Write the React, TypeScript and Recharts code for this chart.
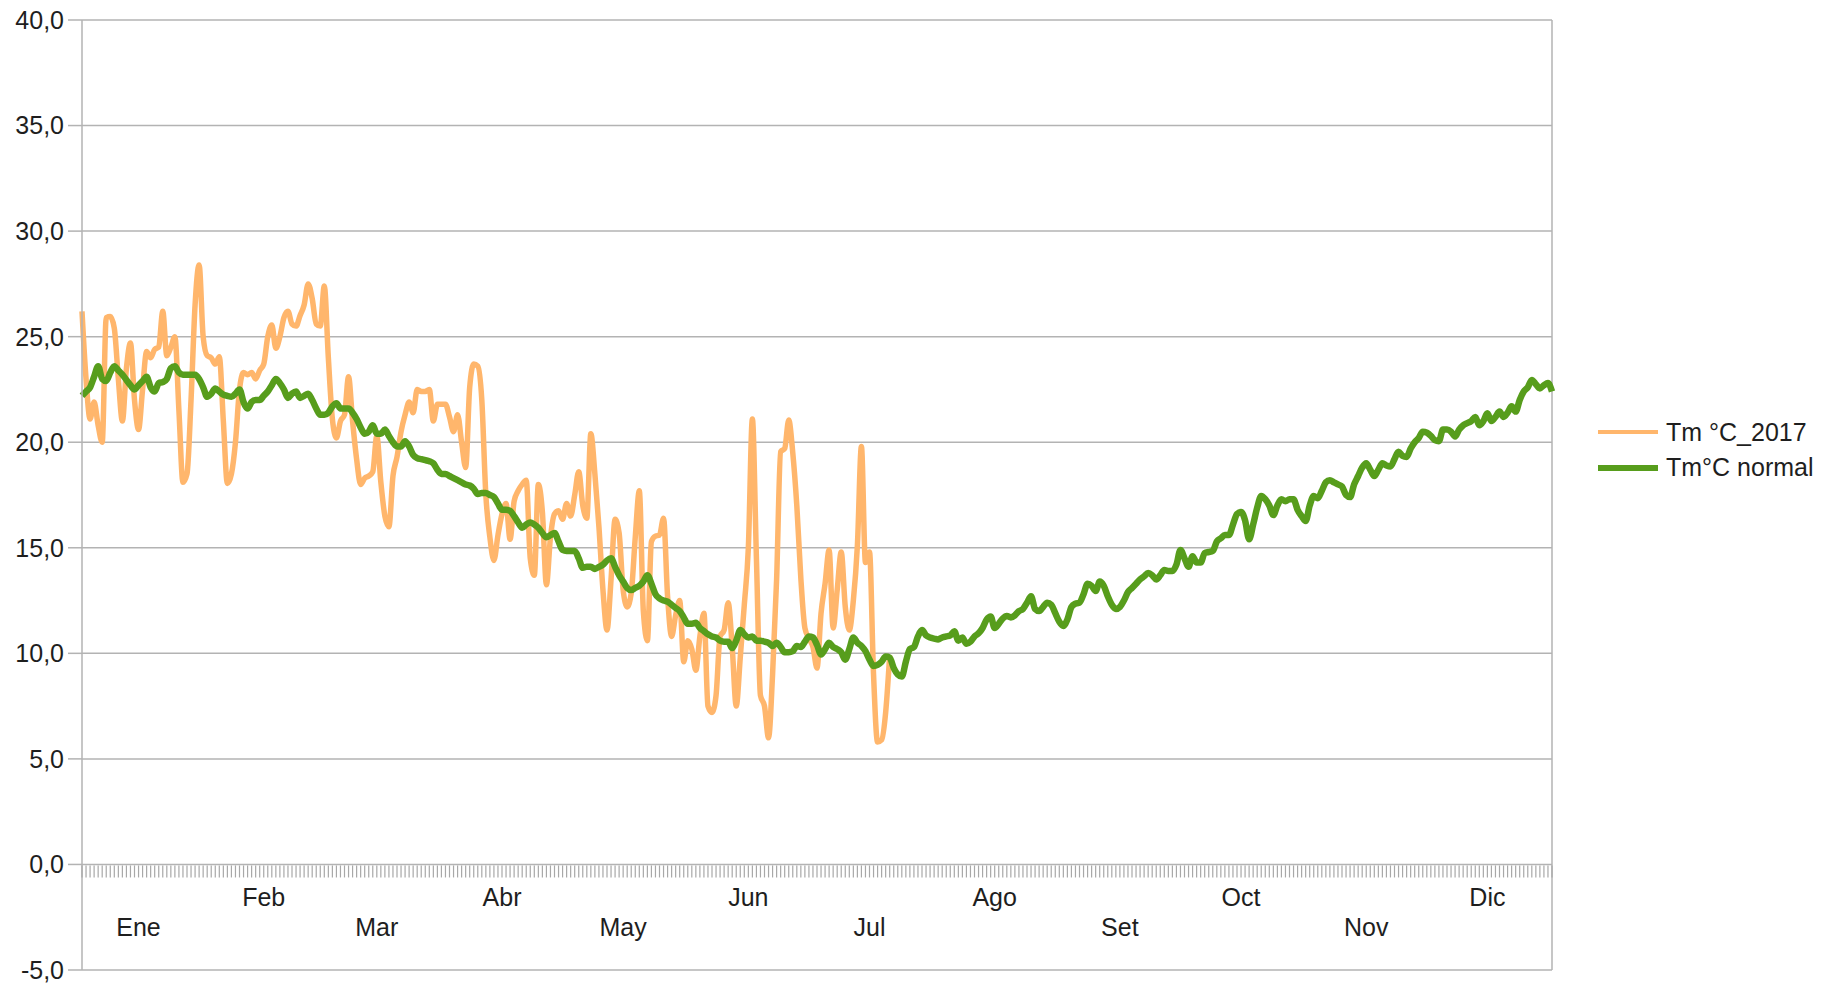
import React from 'react';
import { LineChart, Line, XAxis, YAxis, CartesianGrid, Legend, ReferenceLine } from 'recharts';

const monthLabels = ['Ene', 'Feb', 'Mar', 'Abr', 'May', 'Jun', 'Jul', 'Ago', 'Set', 'Oct', 'Nov', 'Dic'];
const monthStartDays = [0, 31, 59, 90, 120, 151, 181, 212, 243, 273, 304, 334];
const yTicks = [-5, 0, 5, 10, 15, 20, 25, 30, 35, 40];

const seriesNames = ['Tm °C_2017', 'Tm°C normal'];

// Daily mean temperature 2017 (1 Jan .. 20 Jul)
const tm2017 = [
  26.2, 23.0, 21.1, 21.9, 20.8, 20.0, 25.9, 25.95, 25.4, 23.0,
  21.0, 23.5, 24.7, 22.0, 20.6, 22.5, 24.3, 24.0, 24.4, 24.5,
  26.2, 24.1, 24.5, 25.0, 21.5, 18.1, 18.5, 22.0, 26.5, 28.4,
  25.0, 24.1, 24.0, 23.7, 24.05, 21.0, 18.05, 18.5, 20.0, 22.5,
  23.3, 23.2, 23.3, 23.0, 23.4, 23.7, 25.0, 25.55, 24.45, 25.0,
  25.9, 26.2, 25.6, 25.5, 26.0, 26.5, 27.5, 26.8, 25.6, 25.5,
  27.4, 24.0, 21.1, 20.2, 21.0, 21.3, 23.1, 21.0, 19.2, 18.0,
  18.3, 18.4, 18.6, 20.3, 18.1, 16.5, 16.0, 18.4, 19.3, 20.5,
  21.3, 21.9, 21.4, 22.5, 22.4, 22.4, 22.5, 21.0, 21.8, 21.8,
  21.8, 21.2, 20.5, 21.3, 20.0, 18.8, 22.6, 23.7, 23.6, 22.0,
  17.5, 15.5, 14.4, 15.6, 16.6, 17.1, 15.4, 17.2, 17.7, 18.0,
  18.2, 14.5, 13.7, 18.0, 16.7, 13.25, 15.5, 16.6, 16.75, 16.35,
  17.1, 16.5, 17.5, 18.6, 17.0, 16.4, 20.4, 18.5, 16.0, 13.0,
  11.1, 13.5, 16.35, 15.7, 13.0, 12.2, 12.85, 15.5, 17.7, 12.0,
  10.6, 15.3, 15.55, 15.6, 16.4, 12.7, 10.8, 11.8, 12.5, 9.6,
  10.6, 10.2, 9.2, 10.8, 11.9, 7.5, 7.2, 8.0, 10.8, 11.1,
  12.4, 10.3, 7.5, 9.8, 12.3, 15.0, 21.1, 14.5, 8.0, 7.5,
  6.0, 9.0, 13.5, 19.55, 19.7, 21.05, 19.5, 17.0, 13.55, 11.2,
  10.7, 10.3, 9.3, 11.9, 13.3, 14.9, 11.2, 13.0, 14.8, 12.2,
  11.1, 12.5, 15.1, 19.8, 14.3, 14.8, 9.0, 5.8, 5.9, 7.2,
  9.9,
];

// Daily normal mean temperature (365 days)
const tmNormal = [
  22.2, 22.4, 22.6, 23.1, 23.6, 23.0, 22.9, 23.3, 23.6, 23.4,
  23.2, 22.95, 22.7, 22.5, 22.7, 22.9, 23.1, 22.6, 22.4, 22.8,
  22.85, 23.0, 23.5, 23.6, 23.3, 23.2, 23.2, 23.2, 23.2, 23.0,
  22.6, 22.15, 22.3, 22.55, 22.4, 22.25, 22.2, 22.15, 22.3, 22.5,
  21.9, 21.6, 21.9, 22.0, 22.0, 22.2, 22.4, 22.7, 23.0, 22.8,
  22.5, 22.1, 22.3, 22.4, 22.1, 22.2, 22.3, 22.0, 21.6, 21.3,
  21.3, 21.4, 21.7, 21.85, 21.6, 21.6, 21.6, 21.4, 21.1, 20.7,
  20.4, 20.5, 20.8, 20.4, 20.4, 20.6, 20.3, 20.0, 19.8, 19.8,
  20.05, 19.8, 19.4, 19.25, 19.2, 19.15, 19.1, 19.0, 18.7, 18.5,
  18.5, 18.4, 18.3, 18.2, 18.1, 18.0, 17.95, 17.8, 17.55, 17.6,
  17.6, 17.5, 17.4, 17.1, 16.8, 16.8, 16.75, 16.5, 16.2, 15.95,
  16.1, 16.2, 16.1, 15.95, 15.7, 15.5, 15.6, 15.7, 15.3, 14.9,
  14.85, 14.85, 14.85, 14.5, 14.05, 14.1, 14.1, 14.0, 14.1, 14.2,
  14.4, 14.5, 14.1, 13.7, 13.4, 13.1, 13.0, 13.1, 13.2, 13.4,
  13.7, 13.3, 12.8, 12.6, 12.5, 12.45, 12.3, 12.15, 12.0, 11.7,
  11.4, 11.4, 11.45, 11.2, 11.05, 10.9, 10.8, 10.75, 10.6, 10.55,
  10.55, 10.25, 10.6, 11.1, 10.9, 10.75, 10.8, 10.6, 10.6, 10.55,
  10.5, 10.35, 10.5, 10.3, 10.05, 10.05, 10.1, 10.35, 10.3, 10.55,
  10.8, 10.75, 10.4, 9.95, 10.2, 10.5, 10.3, 10.2, 10.05, 9.7,
  10.2, 10.75, 10.5, 10.35, 10.1, 9.7, 9.4, 9.45, 9.6, 9.85,
  9.8, 9.3, 9.0, 8.9, 9.6, 10.2, 10.3, 10.8, 11.1, 10.85,
  10.75, 10.7, 10.66, 10.75, 10.8, 10.85, 11.05, 10.6, 10.75, 10.45,
  10.55, 10.8, 10.95, 11.2, 11.6, 11.75, 11.2, 11.4, 11.65, 11.77,
  11.7, 11.8, 12.0, 12.1, 12.4, 12.7, 12.1, 12.0, 12.2, 12.4,
  12.3, 11.9, 11.5, 11.3, 11.6, 12.2, 12.35, 12.4, 12.8, 13.3,
  13.2, 12.95, 13.4, 13.2, 12.7, 12.3, 12.1, 12.2, 12.5, 12.9,
  13.1, 13.3, 13.5, 13.65, 13.8, 13.7, 13.5, 13.7, 13.95, 13.9,
  13.9, 14.2, 14.9, 14.5, 14.1, 14.6, 14.3, 14.3, 14.75, 14.8,
  14.85, 15.3, 15.45, 15.6, 15.6, 16.1, 16.6, 16.7, 16.3, 15.4,
  16.1, 16.9, 17.45, 17.3, 17.0, 16.55, 17.0, 17.3, 17.2, 17.3,
  17.3, 16.8, 16.5, 16.27, 17.0, 17.45, 17.35, 17.7, 18.1, 18.2,
  18.1, 18.0, 17.9, 17.5, 17.4, 18.0, 18.4, 18.8, 19.0, 18.7,
  18.4, 18.7, 19.0, 18.9, 18.85, 19.2, 19.55, 19.35, 19.3, 19.7,
  20.0, 20.2, 20.5, 20.45, 20.3, 20.1, 20.05, 20.6, 20.6, 20.5,
  20.27, 20.6, 20.8, 20.9, 21.0, 21.2, 20.8, 21.0, 21.37, 21.0,
  21.2, 21.45, 21.2, 21.4, 21.7, 21.45, 22.0, 22.4, 22.6, 22.95,
  22.75, 22.55, 22.7, 22.8, 22.4,
];

const Y_MIN = -5;
const Y_MAX = 40;
const CHART_W = 1837;
const CHART_H = 986;
const MARGIN = { top: 20, right: 285, bottom: 0, left: 0 };
const Y_AXIS_W = 82;
const X_AXIS_H = 16;
const PLOT_TOP = MARGIN.top;
const PLOT_BOTTOM = CHART_H - MARGIN.bottom - X_AXIS_H;
const ZERO_Y = PLOT_TOP + ((Y_MAX - 0) / (Y_MAX - Y_MIN)) * (PLOT_BOTTOM - PLOT_TOP);

const FONT = '"Liberation Sans", Arial, sans-serif';
const TEXT_COLOR = '#1e1e1e';
const GRID_COLOR = '#b3b3b3';
const ORANGE = '#ffb66c';
const GREEN = '#579d1c';

const labelDays = monthStartDays.map((d) => d + 14);

const data = tmNormal.map((v, i) => ({
  day: i,
  normal: v,
  y2017: i < tm2017.length ? tm2017[i] : null,
}));

const DayTick = (props: any) => {
  const { x, payload } = props;
  const idx = labelDays.indexOf(payload.value);
  return (
    <g>
      <line x1={x} x2={x} y1={ZERO_Y + 1} y2={ZERO_Y + 13} stroke="#a8a8a8" strokeWidth={1.2} />
      {idx >= 0 && (
        <text
          x={x}
          y={idx % 2 === 0 ? ZERO_Y + 63 : ZERO_Y + 33}
          textAnchor="middle"
          dominantBaseline="central"
          fontSize={25}
          fontFamily={FONT}
          fill={TEXT_COLOR}
        >
          {monthLabels[idx]}
        </text>
      )}
    </g>
  );
};

const LegendContent = () => (
  <svg width={247} height={80} style={{ display: 'block' }}>
    <line x1={8} x2={68} y1={22} y2={22} stroke={ORANGE} strokeWidth={4} />
    <text x={76} y={22} dominantBaseline="central" fontSize={25} fontFamily={FONT} fill={TEXT_COLOR}>
      {seriesNames[0]}
    </text>
    <line x1={8} x2={68} y1={58} y2={58} stroke={GREEN} strokeWidth={6} />
    <text x={76} y={57} dominantBaseline="central" fontSize={25} fontFamily={FONT} fill={TEXT_COLOR}>
      {seriesNames[1]}
    </text>
  </svg>
);

export default function App() {
  return (
    <div style={{ position: 'absolute', left: 0, top: 0, width: CHART_W, height: CHART_H, background: '#fff' }}>
      <LineChart width={CHART_W} height={CHART_H} data={data} margin={MARGIN}>
        <CartesianGrid vertical={false} stroke={GRID_COLOR} strokeWidth={1.5} />
        <XAxis
          dataKey="day"
          type="category"
          height={X_AXIS_H}
          axisLine={false}
          tickLine={false}
          interval={0}
          tick={(p: any) => <DayTick {...p} />}
        />
        <YAxis
          width={Y_AXIS_W}
          domain={[Y_MIN, Y_MAX]}
          ticks={yTicks}
          interval={0}
          allowDataOverflow
          tickSize={14}
          tickMargin={4}
          axisLine={{ stroke: GRID_COLOR, strokeWidth: 1.5 }}
          tickLine={{ stroke: GRID_COLOR, strokeWidth: 1.5 }}
          tick={{ fontSize: 25, fontFamily: FONT, fill: TEXT_COLOR }}
          tickFormatter={(v: number) => v.toFixed(1).replace('.', ',')}
        />
        <ReferenceLine x={364} stroke={GRID_COLOR} strokeWidth={1.5} />
        <Legend
          layout="vertical"
          align="center"
          verticalAlign="middle"
          wrapperStyle={{ position: 'absolute', left: 1590, top: 410, width: 247, height: 80 }}
          content={() => <LegendContent />}
        />
        <Line
          type="monotone"
          dataKey="y2017"
          name={seriesNames[0]}
          stroke={ORANGE}
          strokeWidth={5.5}
          dot={false}
          activeDot={false}
          connectNulls={false}
          isAnimationActive={false}
          strokeLinejoin="round"
        />
        <Line
          type="monotone"
          dataKey="normal"
          name={seriesNames[1]}
          stroke={GREEN}
          strokeWidth={6.5}
          dot={false}
          activeDot={false}
          isAnimationActive={false}
          strokeLinejoin="round"
        />
      </LineChart>
    </div>
  );
}
